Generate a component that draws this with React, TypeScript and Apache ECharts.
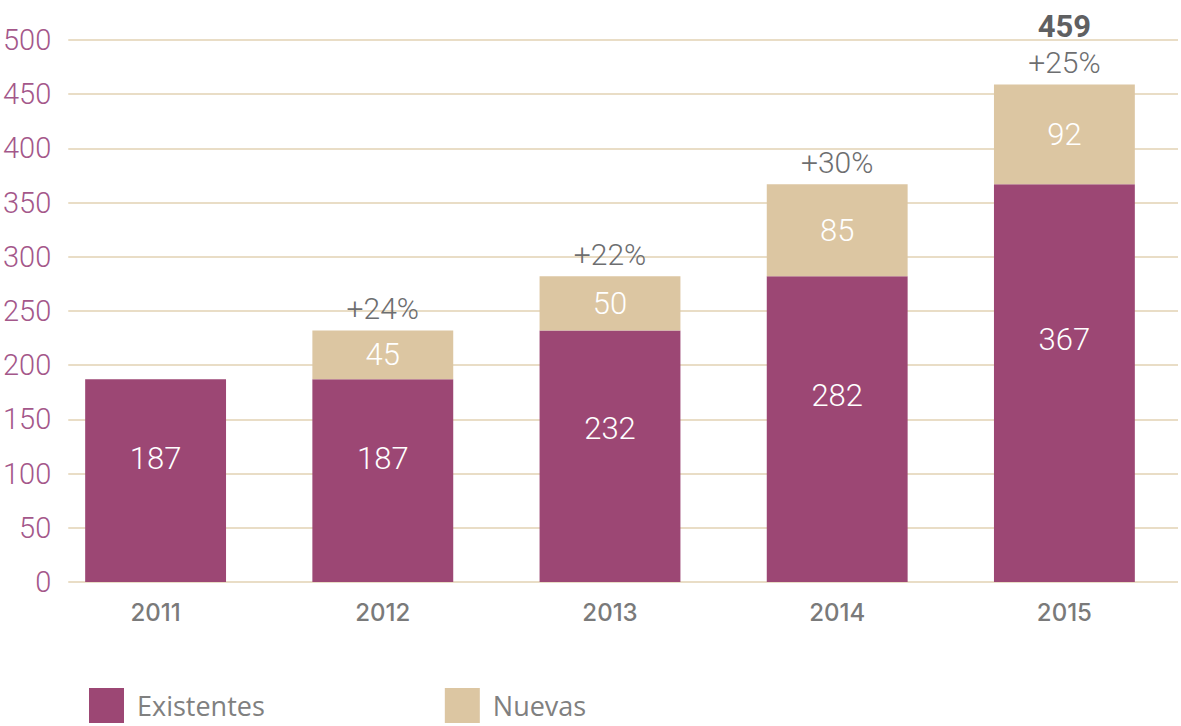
import React, { useEffect, useRef } from "react";
import * as echarts from "echarts";

const years = ["2011", "2012", "2013", "2014", "2015"];
const existentes = [187, 187, 232, 282, 367];
const nuevas = [0, 45, 50, 85, 92];
const growth = ["", "+24%", "+22%", "+30%", "+25%"];
const totals = ["", "", "", "", "459"];
const yTicks = [0, 50, 100, 150, 200, 250, 300, 350, 400, 450, 500];

const PURPLE = "#9c4774";
const BEIGE = "#dcc6a2";
const GRID = "#e2d2b3";
const NUM_FONT = "Roboto, sans-serif";
const THIN = 300;

export default function App() {
  const ref = useRef<HTMLDivElement>(null);
  useEffect(() => {
    if (!ref.current) return;
    const chart = echarts.init(ref.current, null, { renderer: "svg" });
    const top = 40;
    const bottom = 144;
    chart.setOption({
      animation: false,
      backgroundColor: "#ffffff",
      legend: {
        left: 89,
        top: 688,
        padding: 0,
        itemWidth: 35,
        itemHeight: 35,
        itemGap: 180,
        icon: "rect",
        textStyle: {
          fontFamily: '"Open Sans", sans-serif',
          fontSize: 27,
          fontWeight: 500,
          color: "#808080",
          padding: [0, 0, 0, 8],
        },
        data: ["Existentes", "Nuevas"],
      },
      grid: [
        { left: 42, right: 3, top, bottom },
        { left: 64, right: 3, top, bottom },
      ],
      xAxis: [
        {
          type: "category",
          gridIndex: 0,
          data: years,
          axisLine: { show: false },
          axisTick: { show: false },
          axisLabel: {
            margin: 18,
            fontFamily: "Inter, sans-serif",
            fontSize: 24,
            fontWeight: 500,
            color: "#7a7a7a",
          },
        },
        { type: "value", gridIndex: 1, show: false, min: 0, max: 1 },
      ],
      yAxis: [
        { type: "value", gridIndex: 0, min: 0, max: 500, interval: 50, show: false },
        {
          type: "value",
          gridIndex: 1,
          min: yTicks[0],
          max: yTicks[yTicks.length - 1],
          interval: yTicks[1] - yTicks[0],
          axisLine: { show: false },
          axisTick: { show: false },
          splitLine: { show: true, lineStyle: { color: GRID, width: 1.5 } },
          axisLabel: {
            margin: 17,
            fontFamily: NUM_FONT,
            fontWeight: THIN,
            fontSize: 29,
            color: "#a4578a",
          },
        },
      ],
      series: [
        {
          name: "Existentes",
          type: "bar",
          stack: "total",
          xAxisIndex: 0,
          yAxisIndex: 0,
          barWidth: "62%",
          z: 5,
          itemStyle: { color: PURPLE },
          label: {
            show: true,
            position: ["50%", "39%"],
            align: "center",
            verticalAlign: "middle",
            fontFamily: NUM_FONT,
            fontWeight: THIN,
            fontSize: 31,
            color: "#ffffff",
          },
          data: existentes,
        },
        {
          name: "Nuevas",
          type: "bar",
          stack: "total",
          xAxisIndex: 0,
          yAxisIndex: 0,
          barWidth: "62%",
          z: 5,
          itemStyle: { color: BEIGE },
          label: {
            show: true,
            position: "inside",
            fontFamily: NUM_FONT,
            fontWeight: THIN,
            fontSize: 31,
            color: "#ffffff",
            formatter: (p: any) => (p.value ? String(p.value) : ""),
          },
          data: nuevas,
        },
        {
          name: "growth",
          type: "bar",
          stack: "total",
          xAxisIndex: 0,
          yAxisIndex: 0,
          barWidth: "62%",
          z: 6,
          itemStyle: { color: "transparent" },
          silent: true,
          label: {
            show: true,
            position: "top",
            distance: 5,
            fontFamily: NUM_FONT,
            fontWeight: THIN,
            fontSize: 30,
            color: "#6d6e70",
            lineHeight: 34,
            formatter: (p: any) => {
              const i = p.dataIndex;
              const g = growth[i];
              const t = totals[i];
              if (!g) return "";
              return t ? `{t|${t}}\n${g}` : g;
            },
            rich: {
              t: {
                fontFamily: NUM_FONT,
                fontSize: 31,
                fontWeight: "bold",
                color: "#5f6062",
                lineHeight: 38,
              },
            },
          },
          data: years.map(() => 0),
        },
      ],
    });
    return () => chart.dispose();
  }, []);
  return (
    <div
      ref={ref}
      style={{ position: "fixed", left: 0, top: 0, width: 1181, height: 726 }}
    />
  );
}
